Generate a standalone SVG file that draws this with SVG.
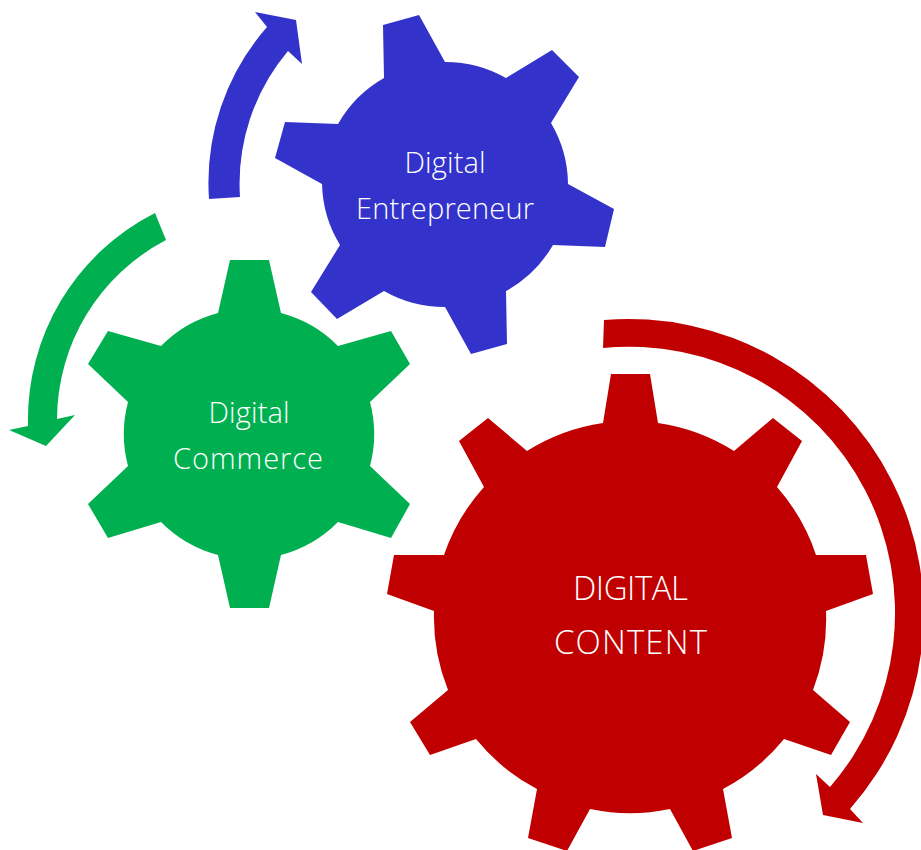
<svg xmlns="http://www.w3.org/2000/svg" width="921" height="850" viewBox="0 0 921 850">
<style>
text{font-family:"Open Sans","Noto Sans",sans-serif;font-weight:300;fill:#fff;text-anchor:middle}
.s{font-size:29px}.l{font-size:33px}
.b{fill:#3333cc}.g{fill:#00b050}.r{fill:#c00000}
</style>
<g id="connectors">
<path class="b" d="M209 199A236 236 0 0 1 267 27L255 12 296 20 302 64 288 51A206 206 0 0 0 240 197Z"/>
<path class="g" d="M155 213A232 232 0 0 0 28 426L9 430 46 446 75 415 57 419A203 203 0 0 1 166 240Z"/>
<path class="r" d="M604 320A295 295 0 0 1 850 809L863 823 823 815 816 774 830 787A266 266 0 0 0 603 348Z"/>
</g>
<g id="entrepreneur">
<path class="b" d="M383 25L419 15 445 62A122.5 122.5 0 0 1 506 78L552 50 579 77 551 123A122.5 122.5 0 0 1 568 184L614 209 605 247 553 245A122.5 122.5 0 0 1 506 291L507 344 471 354 445 307A122.5 122.5 0 0 1 384 291L337 319 311 292 340 245A122.5 122.5 0 0 1 322 184L275 158 285 122 338 124A122.5 122.5 0 0 1 384 78Z"/>
<text class="s" x="445" y="173" textLength="81">Digital</text><text class="s" x="445" y="219" textLength="178">Entrepreneur</text>
</g>
<g id="commerce">
<path class="g" d="M230 260H269L281 313A125 125 0 0 1 338 346L391 331 410 364 370 402A125 125 0 0 1 370 466L410 504 391 538 338 522A125 125 0 0 1 281 555L269 608H230L218 555A125 125 0 0 1 161 522L108 538 88 504 128 466A125 125 0 0 1 128 402L88 364 108 331 161 346A125 125 0 0 1 218 313Z"/>
<text class="s" x="249" y="423" textLength="81">Digital</text><text class="s" x="248" y="469" textLength="150">Commerce</text>
</g>
<g id="content">
<path class="r" d="M611 374H650L658 423A196 196 0 0 1 734 451L773 418 802 441 777 487A196 196 0 0 1 816 555H866L873 594 826 611A196 196 0 0 1 813 690L850 722 831 755 784 739A196 196 0 0 1 723 789L732 838 693 851 670 809A196 196 0 0 1 590 809L567 851 528 838 537 789A196 196 0 0 1 476 739L430 755 410 722 448 690A196 196 0 0 1 434 611L387 594 394 555H444A196 196 0 0 1 484 487L459 441 488 418 527 451A196 196 0 0 1 603 423Z"/>
<text class="l" x="630.5" y="600" textLength="115">DIGITAL</text><text class="l" x="630.5" y="654" textLength="153">CONTENT</text>
</g>
</svg>
